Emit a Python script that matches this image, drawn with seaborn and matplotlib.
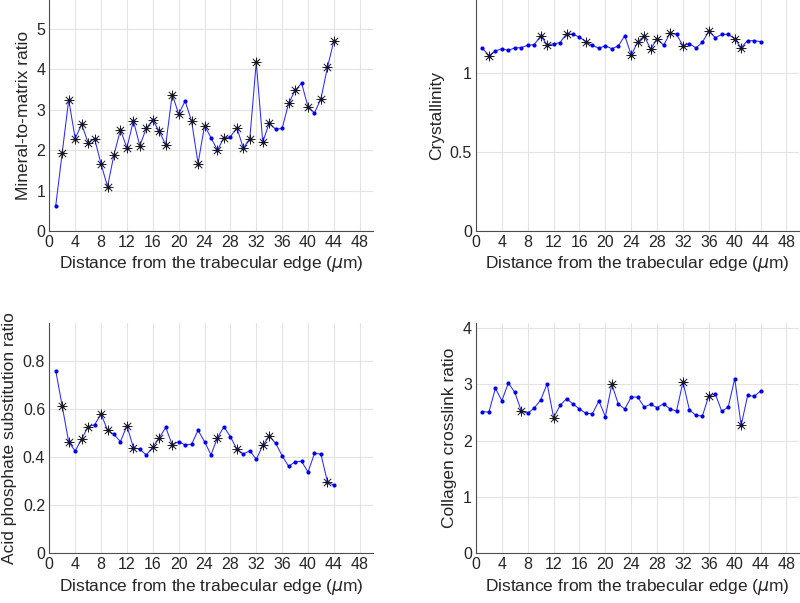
import numpy as np
import pandas as pd
import matplotlib
matplotlib.use("Agg")
import matplotlib.pyplot as plt
import seaborn as sns

distance = list(range(1, 45))

mineral_matrix = [0.63, 1.94, 3.25, 2.29, 2.64, 2.19, 2.29, 1.66, 1.10, 1.89,
                  2.50, 2.06, 2.73, 2.11, 2.55, 2.74, 2.47, 2.13, 3.38, 2.90,
                  3.22, 2.72, 1.67, 2.61, 2.31, 2.00, 2.31, 2.33, 2.56, 2.05,
                  2.29, 4.18, 2.20, 2.67, 2.52, 2.54, 3.16, 3.48, 3.66, 3.08,
                  2.92, 3.28, 4.05, 4.71]
mineral_stars = [2, 3, 4, 5, 6, 7, 8, 9, 10, 11, 12, 13, 14, 15, 16, 17, 18, 19, 20,
                 22, 23, 24, 26, 27, 29, 30, 31, 32, 33, 34, 37, 38, 40, 42, 43, 44]

crystallinity = [1.159, 1.112, 1.142, 1.156, 1.146, 1.161, 1.163, 1.178, 1.182, 1.237,
                 1.182, 1.186, 1.195, 1.252, 1.247, 1.230, 1.199, 1.177, 1.159, 1.175,
                 1.156, 1.173, 1.239, 1.116, 1.199, 1.237, 1.154, 1.220, 1.178, 1.254,
                 1.247, 1.175, 1.188, 1.161, 1.197, 1.268, 1.226, 1.247, 1.247, 1.218,
                 1.163, 1.207, 1.207, 1.201]
crystallinity_stars = [2, 10, 11, 14, 17, 24, 25, 26, 27, 28, 30, 32, 36, 40, 41]

acid_phosphate = [0.760, 0.612, 0.463, 0.426, 0.476, 0.527, 0.535, 0.580, 0.513, 0.495,
                  0.465, 0.531, 0.440, 0.433, 0.409, 0.442, 0.481, 0.524, 0.452, 0.465,
                  0.451, 0.454, 0.512, 0.465, 0.410, 0.481, 0.527, 0.485, 0.434, 0.413,
                  0.427, 0.391, 0.449, 0.488, 0.458, 0.406, 0.362, 0.381, 0.383, 0.338,
                  0.416, 0.413, 0.297, 0.283]
acid_stars = [2, 3, 5, 6, 8, 9, 12, 13, 16, 17, 19, 26, 29, 33, 34, 43]

collagen = [2.515, 2.509, 2.929, 2.710, 3.024, 2.858, 2.527, 2.485, 2.580, 2.722,
            3.012, 2.408, 2.627, 2.746, 2.651, 2.562, 2.485, 2.479, 2.707, 2.426,
            3.000, 2.651, 2.562, 2.775, 2.775, 2.598, 2.645, 2.586, 2.657, 2.562,
            2.527, 3.041, 2.544, 2.450, 2.438, 2.799, 2.828, 2.521, 2.598, 3.101,
            2.272, 2.805, 2.787, 2.882]
collagen_stars = [7, 12, 21, 32, 36, 41]

x_ticks = list(range(0, 49, 4))
xlabel = "Distance from the trabecular edge ($\\mu$m)"

panels = [
    ("Mineral-to-matrix ratio", mineral_matrix, mineral_stars, 5.72, [0, 1, 2, 3, 4, 5], ["0", "1", "2", "3", "4", "5"]),
    ("Crystallinity", crystallinity, crystallinity_stars, 1.465, [0, 0.5, 1], ["0", "0.5", "1"]),
    ("Acid phosphate substitution ratio", acid_phosphate, acid_stars, 0.96, [0, 0.2, 0.4, 0.6, 0.8], ["0", "0.2", "0.4", "0.6", "0.8"]),
    ("Collagen crosslink ratio", collagen, collagen_stars, 4.095, [0, 1, 2, 3, 4], ["0", "1", "2", "3", "4"]),
]

sns.set_style("white")
plt.rcParams['font.family'] = ['Liberation Sans', 'DejaVu Sans']

fig = plt.figure(figsize=(8.0, 6.03), dpi=100)
W, H = 800.0, 603.0
positions = [
    (49.3, 231.0, 323.4, 231.0),
    (476.0, 231.0, 323.4, 231.0),
    (49.3, 553.3, 323.4, 230.6),
    (476.0, 553.3, 323.4, 230.6),
]

text_color = "#262626"
for (label, vals, stars, ytop, yt, ytl), (l, b, w, h) in zip(panels, positions):
    ax = fig.add_axes([l / W, (H - b) / H, w / W, h / H])
    df = pd.DataFrame({"x": distance, "y": vals})
    sns.lineplot(data=df, x="x", y="y", ax=ax, color="#2a2aff", linewidth=0.75,
                 marker="o", markersize=3, markeredgewidth=0, markerfacecolor="#0000ee")
    sdf = df[df["x"].isin(stars)]
    sns.scatterplot(data=sdf, x="x", y="y", ax=ax, marker="+", s=42, color="#1a1a1a",
                    linewidth=0.7, zorder=5)
    sns.scatterplot(data=sdf, x="x", y="y", ax=ax, marker="x", s=28, color="#1a1a1a",
                    linewidth=0.7, zorder=5)
    ax.set_xlim(0, 50)
    ax.set_ylim(0, ytop)
    ax.set_xticks(x_ticks)
    ax.set_xticklabels([str(t) for t in x_ticks])
    ax.set_yticks(yt)
    ax.set_yticklabels(ytl)
    ax.grid(True, color="#e3e3e3", linewidth=0.8)
    ax.set_axisbelow(True)
    for side in ["top", "right"]:
        ax.spines[side].set_visible(False)
    for side in ["left", "bottom"]:
        ax.spines[side].set_color("#4d4d4d")
        ax.spines[side].set_linewidth(0.8)
    ax.tick_params(axis="both", direction="in", length=3, width=0.8, colors="#4d4d4d",
                   labelcolor=text_color, labelsize=11.5, pad=3)
    ax.set_xlabel(xlabel, fontsize=12.5, color=text_color, labelpad=3)
    ax.set_ylabel(label, fontsize=12.5, color=text_color, labelpad=4)

fig.savefig("out.png", dpi=100)
